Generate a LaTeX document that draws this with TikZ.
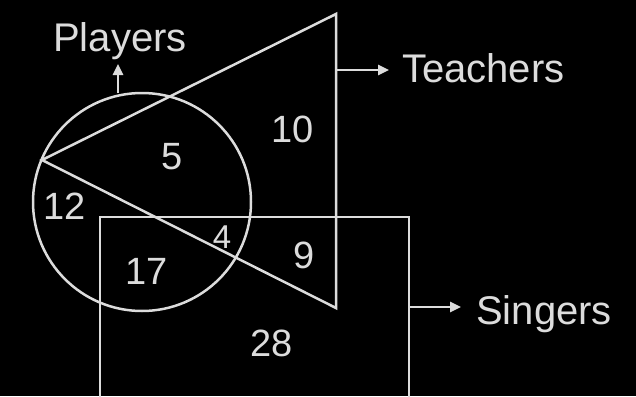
\documentclass[tikz,border=0pt]{standalone}
\usepackage{fontspec}
\setmainfont{Liberation Sans}
\usetikzlibrary{arrows.meta}
\definecolor{ink}{HTML}{DCDCDC}
\begin{document}
\begin{tikzpicture}[x=1pt,y=-1pt,
  shape line/.style={draw=ink,line width=2.5pt},
  pointer/.style={draw=ink,line width=2.5pt,-{Triangle[length=11pt,width=10pt]}},
  setlabel/.style={text=ink,font=\fontsize{40}{40}\selectfont,inner sep=0pt,anchor=base},
  count/.style={text=ink,font=\fontsize{38}{38}\selectfont,inner sep=0pt}]
\fill[black] (0,0) rectangle (636,396);
\useasboundingbox (0,0) rectangle (636,396);
\clip (0,0) rectangle (636,396);
% shapes
\coordinate (apex) at (42,160);
\coordinate (ttop) at (336,14);
\coordinate (tbot) at (336,308);
\draw[shape line] (142,202) circle[radius=109];
\draw[shape line,line join=miter] (ttop) -- (apex) -- (tbot) -- cycle;
\draw[shape line] (100,410) -- (100,217) -- (409,217) -- (409,410);
% labels
\node[setlabel] (players) at (120,52) {Players};
\node[setlabel,anchor=base west] (teachers) at (402,82) {Teachers};
\node[setlabel,anchor=base west] (singers) at (476,324) {Singers};
% pointers
\coordinate (pstart) at (118,93);
\coordinate (pend) at (118,64);
\coordinate (tstart) at (336,70);
\coordinate (tend) at (389,70);
\coordinate (sstart) at (409,307);
\coordinate (send) at (461,307);
\draw[pointer] (pstart) -- (pend);
\draw[pointer] (tstart) -- (tend);
\draw[pointer] (sstart) -- (send);
% counts
\node[count] (n10) at (293,129) {10};
\node[count] (n5) at (172,157) {5};
\node[count] (n12) at (65,206) {12};
\node[count,font=\fontsize{33}{33}\selectfont] (n4) at (222,237) {4};
\node[count] (n17) at (147,271) {17};
\node[count] (n9) at (304,255) {9};
\node[count] (n28) at (272,343) {28};
\end{tikzpicture}
\end{document}
